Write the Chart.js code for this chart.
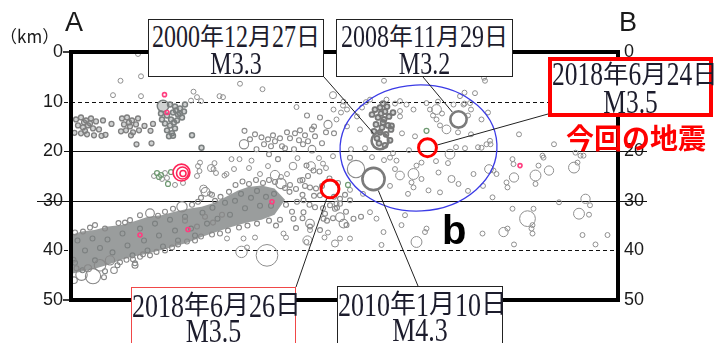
<!DOCTYPE html>
<html><head><meta charset="utf-8">
<script src="https://cdn.jsdelivr.net/npm/chart.js@4.4.0/dist/chart.umd.min.js"></script>
<style>
html,body{margin:0;padding:0;background:#fff;}
#wrap{position:relative;width:714px;height:343px;overflow:hidden;background:#fff;}
canvas{position:absolute;left:0;top:0;}
.lbl{position:absolute;white-space:nowrap;color:#1a1a1a;}
.box{position:absolute;background:#fff;box-sizing:border-box;text-align:center;color:#1c1c2c;font-family:"Liberation Serif","Noto Sans CJK JP",serif;white-space:nowrap;}
.box .d{display:inline-block;transform:scaleY(1.3);}
</style></head>
<body>
<div id="wrap">
<canvas id="c" width="714" height="343"></canvas>
<div class="lbl" style="left:0px;top:23px;font:17px 'Noto Sans CJK JP';">（km）</div>
<div class="lbl" style="left:65px;top:9px;font:27px/27px 'Liberation Sans';">A</div>
<div class="lbl" style="left:619px;top:9px;font:27px/27px 'Liberation Sans';">B</div>
<div class="lbl" style="left:442px;top:210px;font:bold 40px/40px 'Liberation Sans';color:#000;">b</div>
<div class="lbl" style="left:566px;top:123px;font:bold 28px/28px 'Noto Sans CJK JP';color:#ff0000;">今回の地震</div>
<div class="box" style="left:148px;top:19px;width:176px;height:58px;border:1.5px solid #222;font-size:24px;line-height:27px;padding-top:4px;"><span class="d">2000</span>年<span class="d">12</span>月<span class="d">27</span>日<br><span class="d">M3.3</span></div>
<div class="box" style="left:336px;top:19px;width:177px;height:58px;border:1.5px solid #222;font-size:24px;line-height:27px;padding-top:4px;"><span class="d">2008</span>年<span class="d">11</span>月<span class="d">29</span>日<br><span class="d">M3.2</span></div>
<div class="box" style="left:548px;top:57px;width:165px;height:60px;border:4px solid #ff0000;font-size:25.5px;line-height:28px;"><span class="d">2018</span>年<span class="d">6</span>月<span class="d">24</span>日<br><span class="d">M3.5</span></div>
<div class="box" style="left:131px;top:287px;width:165px;height:70px;border:1.5px solid #f04848;font-size:26px;line-height:25px;padding-top:5px;"><span class="d">2018</span>年<span class="d">6</span>月<span class="d">26</span>日<br><span class="d">M3.5</span></div>
<div class="box" style="left:337px;top:286px;width:166px;height:70px;border:1.5px solid #222;font-size:26px;line-height:25px;padding-top:5px;"><span class="d">2010</span>年<span class="d">1</span>月<span class="d">10</span>日<br><span class="d">M4.3</span></div>
</div>
<script>
// ---- data: [distance from A (km), depth (km), magnitude(optional)] ----
const depthTicks = [0, 10, 20, 30, 40, 50];
const gridDepths = [10, 20, 30, 40];

// outline of the densely packed (saturated) part of the dipping cluster
const slabUpper = [[-0.4,37.1],[2.3,36.2],[4.9,35.9],[7.6,35.2],[10.3,34.9],[12.9,34.1],[15.6,33.2],[18.3,32.9],[20.9,32.2],[23.6,31.6],[26.3,31.2],[28.9,30.4],[31.6,29],[33.6,27.9],[35.6,27.2],[38.3,26.9],[40.9,27.5],[43,29.8]];
const slabLower = [[-0.4,44.8],[2.3,44.3],[4.9,43.7],[7.6,42.9],[10.3,41.9],[12.9,41.2],[15.6,40.6],[18.3,39.9],[20.9,39.2],[23.6,38.4],[26.3,37.3],[28.9,36.4],[31.6,35.5],[33.6,34.9],[35.6,34.3],[38.3,33.8],[40.9,32.8],[43,29.8]];

const shallowPts = [[10.1,5.8],[14.2,4.9],[8.6,8.7],[14.2,8.9],[24.7,8],[25.4,9.1],[29.9,8.9],[30.6,9.1],[34,6.4],[38.5,7.5],[13.6,0.4],[52.6,8.7,1.5],[59.2,10.1],[62.8,5.8],[65,10.4],[73.6,10],[78.9,8.2],[83,5.8],[78.9,10.4],[24.2,9.8],[26.2,9.9],[45.3,11.1],[60,9.6],[63.3,9.6],[71.3,10.3],[76.7,10.6],[78,8.9],[80.2,11.6],[81,8.3]];

const westPts = [[1.2,13.6],[2.2,13.2],[3.2,13.8],[4.2,13.4],[5.2,14],[1.6,14.8],[2.6,15.2],[3.6,14.8],[4.6,15.4],[5.8,15.6],[2.2,16.4],[3.4,16.6],[4.8,16.8],[6.3,16.9],[0.9,16.3],[7.1,16.7],[8.3,14.5],[6.6,13.8],[10.4,13.4],[11.4,13.2],[12.4,13.8],[10.8,14.6],[12,15],[13.2,14.6],[11.2,15.8],[12.6,16.2],[13.8,15.8],[10.2,16],[13.6,13.4],[13.3,18.6],[16.3,18.4],[14.9,14.9],[16.6,14.5],[16.1,15.9],[2.8,14.2],[4,14.4],[3,15.9],[11.8,14.2],[12.2,16.8]];

const pinkClusterPts = [[18.6,10.9,2.3],[20,10.6],[21,11],[22,11.4],[22.8,12],[21.6,12.6],[20.6,12.2],[19.4,12.8],[18.2,12.4],[20.2,13.6],[21.4,13.8],[22.4,13.2],[19,14.4],[20,14.8],[19.4,15.8],[20.4,16.4],[19.8,17],[21,15.4],[18.4,13.6],[23,10.6],[20.6,16.9],[24.4,16.8],[26.3,19.3],[21.2,11.8],[20.8,14.2],[22,12.4]];

const midPts = [[34.9,15.9],[34.8,18.6,1.9],[37.3,19.6],[38.3,17.2],[39.6,17.6],[41,18],[40.2,19],[42.4,19],[44,17.4],[45.8,17.8],[46.6,18.6],[47.6,18],[49,17],[50.4,18.4],[43,19.4],[39.8,20.6],[41.6,21.6],[36,17.6],[38.8,18.6],[44.8,19.6],[48.4,19.6,1.6],[51.2,16.2],[46,15.8],[37,16.6],[40.6,16.8],[42,17.4],[43.4,16.2],[45,16.4],[47,16.8],[48.4,15.6],[51.6,14.6,1.7],[50,13.2],[48.8,15],[52.8,16.4],[47.4,12.8],[47.3,22.9],[48.7,23.9],[46,25.9],[48,27.3],[56,21.3],[57.2,23.6,3.4]];

const band2030Pts = [[19.4,25.4],[18.4,25.6],[19,24.4],[21,26.8],[22.6,26.4],[16.8,25],[25.6,23],[25.9,24],[25.4,25],[28.9,22.4],[28.2,23.4,1.5],[28.7,23.6],[29.2,24.4],[30.9,24.9],[32.3,21.6],[33.9,21.6],[36.3,21.9],[32.8,23.6],[35.8,23.4],[26,22.3],[31.3,24.6],[26.7,27.6,1.6],[28,28.6],[44.6,23,1.6],[48.2,23,1.8],[51.2,23.4],[41,24.8,1.9],[42.2,25.2],[43.4,24.6],[38,24.6],[39.6,23],[45.5,21.4],[49.8,21.4],[52.6,21],[50.6,22.5]];

const slabEdgePts = [[2.6,36.2],[5,34.9],[7,35.6],[9.7,34.5],[12,33.9],[14,32.9],[16,32.5,1.8],[19,32.2],[22.4,31.2,2.1],[24.4,30.8],[27.1,28.2,1.8],[28.4,28.8],[30.1,29.2],[31.8,28.2],[33.1,26.8],[34.5,26.1],[37.2,25.8],[39.8,25.8],[42.2,26.5,2.1],[20.6,31.6],[17.6,33],[25.6,30.2],[11,34.4],[4,35.4],[1,36.4],[26.2,29.4],[29,30],[35.8,26.6],[38.6,26.4],[41,26.2],
  [2.3,44.9,2.3],[4.6,45.2,3],[6,43,2.3],[8,42,1.9],[1.3,43.6],[0.7,41.9],[11.3,41.9],[14,41.3],[17.3,40.3],[10,42.4],[12.6,41.8],[14.6,40.8],[19,40],[21.6,38.8],[23.4,38.2],[26.2,37.2],[28.4,36.8],[31.6,36],[33.8,35.4],[35.5,35],[39.8,34],[42,33.8],[41.2,35],[3.6,43.6,1.5],[16,41],[20.4,39.4],[25,38],[30,36.6],[37.4,34.6],[23,34],[27,33.2],[25.4,35.2],[28.6,34.4],[30.4,32.8],[8.8,44,1.4],[13,43,1.3],[0.8,46,1.4],[6.8,45.4]];

const slabInnerPts = [[1.5,38],[3,40],[1,42.5],[4.5,37.6],[6,39.5],[5,42],[7.5,37.8],[8.5,40.4],[9.5,43],[10.5,36.6],[11.5,39],[12.5,41],[14,35.6],[14.8,38],[15.5,40],[17,34.6],[17.8,37],[18.6,39.2],[20,33.8],[21,36],[21.6,38],[23,33.2],[24.2,35.6],[25,37],[26.5,32.4],[27.4,34.6],[28.5,31.4],[29.5,33.6],[31,30.4],[32,32.8],[33,30],[34.2,28.6],[35,31.5],[36.2,29.4],[37.4,28],[38,31],[39.2,29.2],[40.2,31],[40.8,28.6],[2.5,44],[7,44.2],[13,42.6]];

const slabEastPts = [[43.9,28.2],[46.5,28.8],[47.9,30.8],[46.5,33.5],[50.6,31.5],[52.6,33.5],[45.2,35.5],[48,35.2],[43.2,30.8],[49.2,27.5],[46.5,25.8],[47.6,25],[49.9,24.1],[51.9,25.5],[52.8,29.2],[44.4,32.2],[45.4,30.2],[48.8,29],[50.4,27],[53.6,26.4],[54,30.6],[55,28.8],[53.4,31.4],[51.4,34],[44,26.8],[45.2,27.6],[47,27],[43,27.4],[52,30.9],[53,31.6],[54,29.6],[50,28.9],[49,31.3],[51,32.6],[46.7,32.3],[46.7,29.9],[44.7,33.6],[48,34.6,1.8],[50.7,33.6],[54,33.3,1.8],[55.3,34.9],[50,35.9],[56,29.9],[53.3,30.6],[54.7,34.6,1.8],[56.7,33.6],[55.2,32.2],[58.2,33.2]];

const deepPts = [[39.4,41,4.2],[34.3,40.3,2.3],[35.4,39.4],[47.5,38,1.9],[50.9,37.4],[51.6,36.4],[31.4,37.6],[37,37.4],[43.2,37.4],[53,38.6,1.5],[56,37.6],[34.7,37.6],[42.7,36.6],[47.3,38.3],[54,37.6],[48,35.9],[62.7,36.3],[62.3,38.9],[69.3,38.3,2.2],[71,36.3],[60,32.3],[61.3,33.6],[66.3,34.9],[67,32.9],[71.3,35.6],[64,27],[67.6,28.6],[58.6,28.6],[56,27.8]];

const ellipsePts = [[54.6,10.8],[55.4,11.6],[54.2,12.2],[52.7,11.6],[53.3,13.6],[54.7,10],[58.4,11.2],[57.4,13],[55.4,15],[58,15.6],[66,9.9],[67.3,10.6],[66,11.9],[68.7,11.6],[66,13],[72,11.6],[73.3,11.6,2],[73.3,13.6],[72.6,12.8],[74.4,12.4],[74,14.8],[75.3,15.6,1.8],[78.7,10.6],[80,10.3],[82.3,13.6],[79.6,12.8],[80.2,16.6],[83.6,12.2],[77.6,16.2],[76,20.6,2],[77.2,19.2],[79,19.4],[81.6,19.2],[82.3,19.3],[83.3,18.6],[84,17.9],[64,21.3],[65.3,21.9],[65,23.6],[66,24.9,1.8],[68.7,24.6,2.2],[68.3,26.3],[68.7,27.3],[70.3,25.6],[71.7,27.9],[74,28.3],[73.7,24.3],[76.3,25.6,1.5],[77.7,26.6],[80.7,24.6],[69.3,22.9],[70.3,22.3],[66.4,16.4],[69,17],[56.2,19.6],[59,19.4],[60.4,21.2],[62.8,21.8],[64.6,20.4],[67.8,19.8],[75.6,22.4],[73.2,22],[79.6,28],[82.6,27]];

const darkClusterPts = [[61,11.6],[62,11.2],[63,12],[61.6,13.2],[62.8,13.6],[63.8,13],[61.2,14.6],[62.4,15.2],[63.6,14.8],[62,16.2],[63.2,16.6],[64.2,15.6],[61.4,17.4],[64,17.8],[60.4,12.6],[64.6,12.2],[62.6,10.4],[60.8,16],[63,18.8],[64.3,14.9],[62.2,12.4],[62.6,14.2],[63.4,11],[61.8,18.4]];

const eastPts = [[82.8,5.2],[89.8,16.6],[84.1,18.6],[96.8,18.6],[94.5,20.9],[101.1,20.3],[102.1,20.9],[101.5,22.3],[100.8,23.3,2.2],[95.8,23.9,1.9],[93.1,24.9,2.2],[93.1,26.6],[88.8,25.3,1.9],[87.5,27.3],[88.5,21.6],[88.7,22.6],[87.3,26.3],[93.7,22.9],[94.7,21.3],[102.7,20.9],[83.8,23.6,1.8],[84.7,23.9],[85.3,24.6],[84.5,29.3],[97.8,30.3],[103.1,29.6,1.9],[104,30.9],[88.5,31.6],[92.7,31.6],[91.5,33.6,3.1],[92.5,34.9],[92.3,35.6],[101.8,32.6,2.2],[103.8,32.8],[87.5,35.6],[86.7,36.3,1.9],[82.5,36.6],[92.5,36.6],[102.5,36.9],[107.5,36.9],[105.1,38.8],[88.8,38.8]];

const greenPts = [[17.4,24.4],[18.2,24.8],[17.8,25.2],[19.6,26.6],[20.2,24.2],[71.3,15.9],[55.6,26.8]];
const pinkPts = [[19.4,12.2,0.9],[18.9,8.6,0.9],[14,36.9,0.9],[23.6,35.8,0.9],[40.4,30.2,0.9],[90,22.9,0.9]];
const redClusterPts = [[22.3,24.3,3.3],[22.5,24.4,2.4],[22.6,24.5,1.3]];
const targetEvents = [[71.5,19.3,3.5],[52,27.6,3.5]];          // 2018-06-24, 2018-06-26
const pastEvents = [[62,17.9,3.3],[77.7,13.6,3.2],[60.7,25.6,4.3]]; // 2000-12-27, 2008-11-29, 2010-01-10
const regionB = {cx:69.7, cy:19.35, rx:15.7, ry:12.7, rot:-0.05};

// leader lines: box anchor (layout px) -> event
const leaders = [
  {anchor:[324,77], ev:pastEvents[0]},
  {anchor:[423,77], ev:pastEvents[1]},
  {anchor:[548,114], ev:targetEvents[0]},
  {anchor:[296,287], ev:targetEvents[1]},
  {anchor:[418,286], ev:pastEvents[2]}
];
const gridStyle = [
  {dash:[4,3], from:64, to:618},
  {dash:[], from:64, to:647},
  {dash:[], from:37, to:647},
  {dash:[4,3], from:64, to:618}
];

// ---- helpers ----
const rad = m => Math.max(2, 2.7*m - 0.5);
const pts = (arr, dm=1.1) => arr.map(p => ({x:p[0], y:p[1], m:(p[2]!==undefined?p[2]:dm)}));
const line = arr => arr.map(p => ({x:p[0], y:p[1]}));

function circles(data, color, width, order, fillC){
  return {type:'scatter', data:pts(data), order:order,
    pointRadius:c=>rad(c.raw.m), pointBorderColor:color, pointBorderWidth:width,
    pointBackgroundColor:fillC || 'rgba(0,0,0,0)', showLine:false};
}

const overlay = {
  id:'overlay',
  beforeDatasetsDraw(chart){
    const {ctx, scales:{y}} = chart;
    ctx.save();
    ctx.strokeStyle = '#111'; ctx.lineWidth = 1.2;
    gridDepths.forEach((d,i)=>{
      const py = Math.round(y.getPixelForValue(d)) + 0.5, st = gridStyle[i];
      ctx.setLineDash(st.dash);
      ctx.beginPath(); ctx.moveTo(st.from, py); ctx.lineTo(st.to, py); ctx.stroke();
    });
    ctx.restore();
  },
  afterDatasetsDraw(chart){
    const {ctx, chartArea:a, scales:{x,y}} = chart;
    ctx.save();
    const cx = x.getPixelForValue(regionB.cx), cy = y.getPixelForValue(regionB.cy);
    const rx = x.getPixelForValue(regionB.cx + regionB.rx) - cx;
    const ry = y.getPixelForValue(regionB.cy + regionB.ry) - cy;
    ctx.strokeStyle = '#3b3be6'; ctx.lineWidth = 1.3;
    ctx.beginPath(); ctx.ellipse(cx, cy, rx, ry, regionB.rot, 0, Math.PI*2); ctx.stroke();
    ctx.strokeStyle = '#222'; ctx.lineWidth = 1;
    leaders.forEach(l=>{
      const tx = x.getPixelForValue(l.ev[0]), ty = y.getPixelForValue(l.ev[1]);
      const dx = tx - l.anchor[0], dy = ty - l.anchor[1], len = Math.hypot(dx,dy);
      const r = rad(l.ev[2]) + 1.5;
      ctx.beginPath(); ctx.moveTo(l.anchor[0], l.anchor[1]);
      ctx.lineTo(tx - dx/len*r, ty - dy/len*r); ctx.stroke();
    });
    ctx.strokeStyle = '#000'; ctx.lineWidth = 4;
    ctx.strokeRect(a.left, a.top, a.right - a.left, a.bottom - a.top);
    ctx.lineWidth = 1.5;
    [0,50].forEach(d=>{ const py = y.getPixelForValue(d); ctx.beginPath(); ctx.moveTo(63,py); ctx.lineTo(a.left,py); ctx.stroke(); });
    ctx.restore();
  }
};

const tickFont = {family:'Liberation Sans', size:18};
const clusterFill = 'rgba(120,126,126,0.35)';
new Chart(document.getElementById('c'), {
  type:'scatter',
  data:{datasets:[
    {type:'line', data:line(slabUpper), borderWidth:0, pointRadius:0, fill:false, order:20, borderColor:'rgba(0,0,0,0)'},
    {type:'line', data:line(slabLower), borderWidth:0, pointRadius:0, fill:'-1', order:19, borderColor:'rgba(0,0,0,0)', backgroundColor:'#9a9d9d'},
    circles(shallowPts, '#8e8e8e', 1, 10),
    circles(westPts, '#7f7f7f', 1.3, 9, clusterFill),
    circles(pinkClusterPts, '#7a7f7f', 1.5, 9, clusterFill),
    circles(midPts, '#8a8a8a', 1.1, 10),
    circles(band2030Pts, '#8e8e8e', 1, 10),
    circles(slabInnerPts, '#7c8080', 1.1, 11),
    circles(slabEdgePts, '#888888', 1.1, 10),
    circles(slabEastPts, '#8a8a8a', 1.1, 10),
    circles(deepPts, '#8e8e8e', 1, 10),
    circles(ellipsePts, '#8e8e8e', 1, 10),
    circles(darkClusterPts, '#767676', 1.8, 8, clusterFill),
    circles(eastPts, '#8e8e8e', 1, 10),
    circles(greenPts, '#6f9a72', 1.2, 7),
    circles(pinkPts, '#ff3d7f', 1.6, 6),
    circles(redClusterPts, '#ff2458', 1.6, 5),
    circles(pastEvents, '#7b7b7b', 2.6, 4),
    circles(targetEvents, '#ff0000', 3, 3)
  ]},
  options:{
    responsive:false, animation:false, events:[], devicePixelRatio:1,
    layout:{padding:{top:52, bottom:43, left:0, right:0}},
    plugins:{legend:{display:false}, tooltip:{enabled:false}},
    scales:{
      x:{type:'linear', min:0.2, max:109.6, display:false},
      y:{type:'linear', position:'left', reverse:true, min:0, max:50,
         afterFit:s=>{s.width=71;}, afterBuildTicks:s=>{s.ticks=depthTicks.map(v=>({value:v}));},
         grid:{display:false, drawTicks:false}, border:{display:false},
         ticks:{font:tickFont, color:'#1a1a1a', padding:8}},
      y2:{type:'linear', position:'right', reverse:true, min:0, max:50,
         afterFit:s=>{s.width=96;}, afterBuildTicks:s=>{s.ticks=depthTicks.map(v=>({value:v}));},
         grid:{display:false, drawTicks:false}, border:{display:false},
         ticks:{font:tickFont, color:'#1a1a1a', padding:6}}
    }
  },
  plugins:[overlay]
});
</script>
</body></html>
